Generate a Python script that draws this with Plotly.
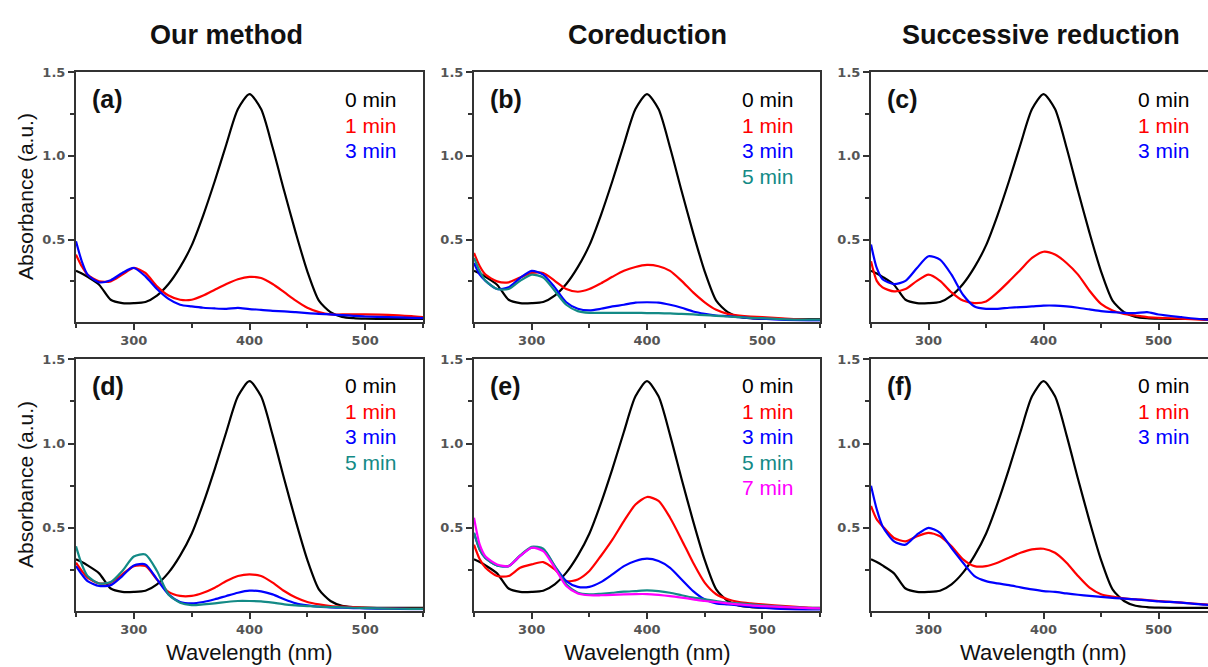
import plotly.graph_objects as go

# Wavelength grid (nm)
wavelength = [250, 255, 260, 270, 280, 290, 300, 310, 320, 330, 340, 350, 360, 370, 380,
              390, 400, 410, 420, 430, 440, 450, 460, 470, 480, 490, 500, 520, 540, 550]

# 0 min: 4-nitrophenolate band, shared by every panel
abs_0min = [0.313, 0.297, 0.277, 0.230, 0.140, 0.120, 0.120, 0.127, 0.165, 0.234, 0.335, 0.465,
            0.645, 0.850, 1.070, 1.280, 1.370, 1.280, 1.050, 0.790, 0.540, 0.310, 0.135, 0.066,
            0.038, 0.030, 0.027, 0.025, 0.025, 0.025]

# (a) Our method, Pt/Au
a_1min = [0.410, 0.340, 0.290, 0.250, 0.250, 0.290, 0.330, 0.300, 0.220, 0.165, 0.140, 0.140,
          0.165, 0.200, 0.234, 0.263, 0.277, 0.270, 0.234, 0.185, 0.135, 0.092, 0.066, 0.052,
          0.052, 0.052, 0.052, 0.050, 0.042, 0.036]
a_3min = [0.490, 0.370, 0.290, 0.244, 0.257, 0.300, 0.330, 0.280, 0.204, 0.145, 0.110, 0.100,
          0.092, 0.088, 0.086, 0.092, 0.084, 0.080, 0.074, 0.070, 0.066, 0.060, 0.056, 0.052,
          0.048, 0.044, 0.040, 0.036, 0.032, 0.030]

# (b) Coreduction
b_1min = [0.420, 0.340, 0.290, 0.250, 0.244, 0.273, 0.300, 0.300, 0.253, 0.204, 0.188, 0.204,
          0.238, 0.277, 0.313, 0.336, 0.348, 0.340, 0.313, 0.253, 0.184, 0.125, 0.080, 0.056,
          0.046, 0.040, 0.036, 0.027, 0.020, 0.020]
b_3min = [0.360, 0.290, 0.253, 0.204, 0.214, 0.270, 0.313, 0.290, 0.214, 0.125, 0.086, 0.076,
          0.086, 0.100, 0.110, 0.123, 0.125, 0.123, 0.110, 0.092, 0.070, 0.056, 0.046, 0.042,
          0.036, 0.030, 0.027, 0.020, 0.016, 0.016]
b_5min = [0.390, 0.310, 0.253, 0.204, 0.204, 0.253, 0.290, 0.273, 0.194, 0.110, 0.072, 0.062,
          0.062, 0.062, 0.062, 0.062, 0.060, 0.060, 0.058, 0.056, 0.052, 0.048, 0.044, 0.040,
          0.036, 0.032, 0.030, 0.023, 0.021, 0.021]

# (c) Successive reduction
c_1min = [0.370, 0.253, 0.214, 0.190, 0.204, 0.253, 0.290, 0.253, 0.184, 0.135, 0.120, 0.130,
          0.184, 0.250, 0.320, 0.390, 0.427, 0.410, 0.360, 0.290, 0.194, 0.115, 0.076, 0.056,
          0.046, 0.036, 0.032, 0.027, 0.020, 0.020]
c_3min = [0.470, 0.330, 0.263, 0.234, 0.253, 0.330, 0.400, 0.380, 0.290, 0.170, 0.100, 0.086,
          0.086, 0.092, 0.096, 0.100, 0.105, 0.105, 0.100, 0.092, 0.082, 0.072, 0.066, 0.062,
          0.060, 0.066, 0.052, 0.036, 0.022, 0.020]

# (d) Our method, second series
d_1min = [0.293, 0.244, 0.204, 0.170, 0.175, 0.224, 0.273, 0.273, 0.194, 0.120, 0.096, 0.096,
          0.115, 0.145, 0.184, 0.214, 0.224, 0.214, 0.175, 0.125, 0.086, 0.060, 0.046, 0.036,
          0.032, 0.030, 0.026, 0.022, 0.020, 0.020]
d_3min = [0.273, 0.224, 0.184, 0.155, 0.160, 0.214, 0.277, 0.283, 0.194, 0.105, 0.060, 0.052,
          0.060, 0.076, 0.096, 0.115, 0.127, 0.123, 0.105, 0.076, 0.052, 0.040, 0.032, 0.028,
          0.026, 0.024, 0.022, 0.020, 0.018, 0.018]
d_5min = [0.390, 0.283, 0.214, 0.170, 0.178, 0.244, 0.330, 0.342, 0.244, 0.105, 0.056, 0.042,
          0.046, 0.052, 0.060, 0.066, 0.066, 0.064, 0.056, 0.046, 0.040, 0.036, 0.032, 0.030,
          0.028, 0.026, 0.024, 0.021, 0.019, 0.019]

# (e) Coreduction, second series
e_1min = [0.400, 0.313, 0.263, 0.214, 0.214, 0.263, 0.283, 0.297, 0.253, 0.184, 0.194, 0.244,
          0.333, 0.430, 0.540, 0.638, 0.683, 0.660, 0.560, 0.430, 0.293, 0.175, 0.106, 0.076,
          0.060, 0.052, 0.046, 0.036, 0.026, 0.022]
e_3min = [0.470, 0.370, 0.320, 0.277, 0.273, 0.333, 0.382, 0.372, 0.273, 0.184, 0.150, 0.150,
          0.178, 0.224, 0.273, 0.303, 0.317, 0.303, 0.263, 0.194, 0.125, 0.076, 0.052, 0.046,
          0.040, 0.032, 0.026, 0.017, 0.013, 0.013]
e_5min = [0.470, 0.370, 0.320, 0.277, 0.273, 0.337, 0.388, 0.376, 0.273, 0.165, 0.115, 0.105,
          0.109, 0.115, 0.121, 0.125, 0.129, 0.125, 0.115, 0.100, 0.086, 0.076, 0.066, 0.056,
          0.052, 0.046, 0.040, 0.032, 0.024, 0.022]
e_7min = [0.560, 0.400, 0.330, 0.283, 0.273, 0.333, 0.382, 0.362, 0.263, 0.155, 0.111, 0.100,
          0.100, 0.102, 0.105, 0.107, 0.107, 0.102, 0.095, 0.086, 0.076, 0.066, 0.060, 0.052,
          0.046, 0.040, 0.036, 0.030, 0.024, 0.022]

# (f) Successive reduction, second series
f_1min = [0.630, 0.550, 0.510, 0.440, 0.420, 0.450, 0.470, 0.450, 0.390, 0.313, 0.273, 0.273,
          0.293, 0.323, 0.352, 0.372, 0.376, 0.352, 0.293, 0.214, 0.145, 0.106, 0.092, 0.082,
          0.076, 0.072, 0.066, 0.056, 0.046, 0.040]
f_3min = [0.750, 0.610, 0.510, 0.420, 0.400, 0.460, 0.500, 0.470, 0.380, 0.293, 0.214, 0.184,
          0.170, 0.160, 0.147, 0.135, 0.125, 0.120, 0.111, 0.103, 0.096, 0.090, 0.084, 0.080,
          0.076, 0.070, 0.064, 0.056, 0.044, 0.040]

time_labels = ["0 min", "1 min", "3 min", "5 min", "7 min"]
series_colors = ["#000000", "#ff0000", "#0000ff", "#138a86", "#ff00ff"]

panel_letters = ["(a)", "(b)", "(c)", "(d)", "(e)", "(f)"]
panel_series = [
    [abs_0min, a_1min, a_3min],
    [abs_0min, b_1min, b_3min, b_5min],
    [abs_0min, c_1min, c_3min],
    [abs_0min, d_1min, d_3min, d_5min],
    [abs_0min, e_1min, e_3min, e_5min, e_7min],
    [abs_0min, f_1min, f_3min],
]
column_titles = ["Our method", "Coreduction", "Successive reduction"]
x_title = "Wavelength (nm)"
y_title = "Absorbance (a.u.)"
x_ticks = [300, 400, 500]
y_ticks = [0.5, 1.0, 1.5]

W, H = 1208, 667
col_px = [(76, 423), (474, 820), (871, 1208)]
row_px = [(66, 318), (356, 610)]
x_ranges = [[250, 550], [250, 550], [250, 543]]
y_range = [0.009, 1.5]

AXIS_COLOR = "#333333"
TICK_FONT = dict(family="DejaVu Sans", size=13, color="#555555", weight="bold")
LABEL_FONT = "Liberation Sans, Arial, sans-serif"

fig = go.Figure()
layout = dict(
    width=W, height=H,
    margin=dict(l=0, r=0, t=0, b=0),
    paper_bgcolor="white", plot_bgcolor="white",
    showlegend=False,
)
annotations = []

for i, series in enumerate(panel_series):
    r, c = divmod(i, 3)
    n = "" if i == 0 else str(i + 1)
    xa, ya = "x" + n, "y" + n
    x0, x1 = col_px[c]
    yt, yb = row_px[r]

    for k, vals in enumerate(series):
        fig.add_trace(go.Scatter(
            x=wavelength, y=vals, mode="lines", xaxis=xa, yaxis=ya,
            line=dict(color=series_colors[k], width=2.2, shape="spline", smoothing=0.7),
            name=time_labels[k], hoverinfo="skip",
        ))

    layout["xaxis" + n] = dict(
        domain=[x0 / W, x1 / W], anchor=ya, range=x_ranges[c],
        tickvals=x_ticks, ticks="outside", ticklen=6, tickwidth=1.5, tickcolor=AXIS_COLOR,
        minor=dict(dtick=50, tick0=250, ticks="outside", ticklen=4, tickwidth=1.5,
                   tickcolor=AXIS_COLOR),
        showline=True, linecolor=AXIS_COLOR, linewidth=2, mirror=True,
        showgrid=False, zeroline=False, tickfont=TICK_FONT,
    )
    layout["yaxis" + n] = dict(
        domain=[1 - yb / H, 1 - yt / H], anchor=xa, range=y_range,
        tickvals=y_ticks, tickformat=".1f", ticks="outside", ticklen=6, tickwidth=1.5,
        tickcolor=AXIS_COLOR,
        minor=dict(dtick=0.25, tick0=0, ticks="outside", ticklen=4, tickwidth=1.5,
                   tickcolor=AXIS_COLOR),
        showline=True, linecolor=AXIS_COLOR, linewidth=2, mirror=(c != 2),
        showgrid=False, zeroline=False, tickfont=TICK_FONT,
    )

    # panel letter
    annotations.append(dict(
        text=panel_letters[i], xref=xa, yref=ya, x=262, y=1.34,
        xanchor="left", yanchor="middle", showarrow=False,
        font=dict(family=LABEL_FONT, size=25, color="#111111", weight="bold"),
    ))
    # time labels, coloured like their curves
    y_lab = 1.335 if r == 0 else 1.345
    for k in range(len(series)):
        annotations.append(dict(
            text=time_labels[k], xref=xa, yref=ya, x=528, y=y_lab - 0.152 * k,
            xanchor="right", yanchor="middle", showarrow=False,
            font=dict(family=LABEL_FONT, size=21, color=series_colors[k]),
        ))

    # y-axis title on the first column
    if c == 0:
        annotations.append(dict(
            text=y_title, xref="paper", yref="paper", x=26 / W, y=1 - (yt + yb) / 2 / H,
            xanchor="center", yanchor="middle", textangle=-90, showarrow=False,
            font=dict(family=LABEL_FONT, size=21, color="#111111"),
        ))
    # x-axis title under the bottom row
    if r == 1:
        annotations.append(dict(
            text=x_title, xref=xa, yref="paper", x=400, y=1 - 652 / H,
            xanchor="center", yanchor="middle", showarrow=False,
            font=dict(family=LABEL_FONT, size=22, color="#111111"),
        ))

title_centers = [226, 647, 1041]
for t, cx in zip(column_titles, title_centers):
    annotations.append(dict(
        text=t, xref="paper", yref="paper", x=cx / W, y=1 - 28 / H,
        xanchor="center", yanchor="middle", showarrow=False,
        font=dict(family=LABEL_FONT, size=27, color="#111111", weight="bold"),
    ))

layout["annotations"] = annotations
fig.update_layout(**layout)
fig.write_html("out.html")
